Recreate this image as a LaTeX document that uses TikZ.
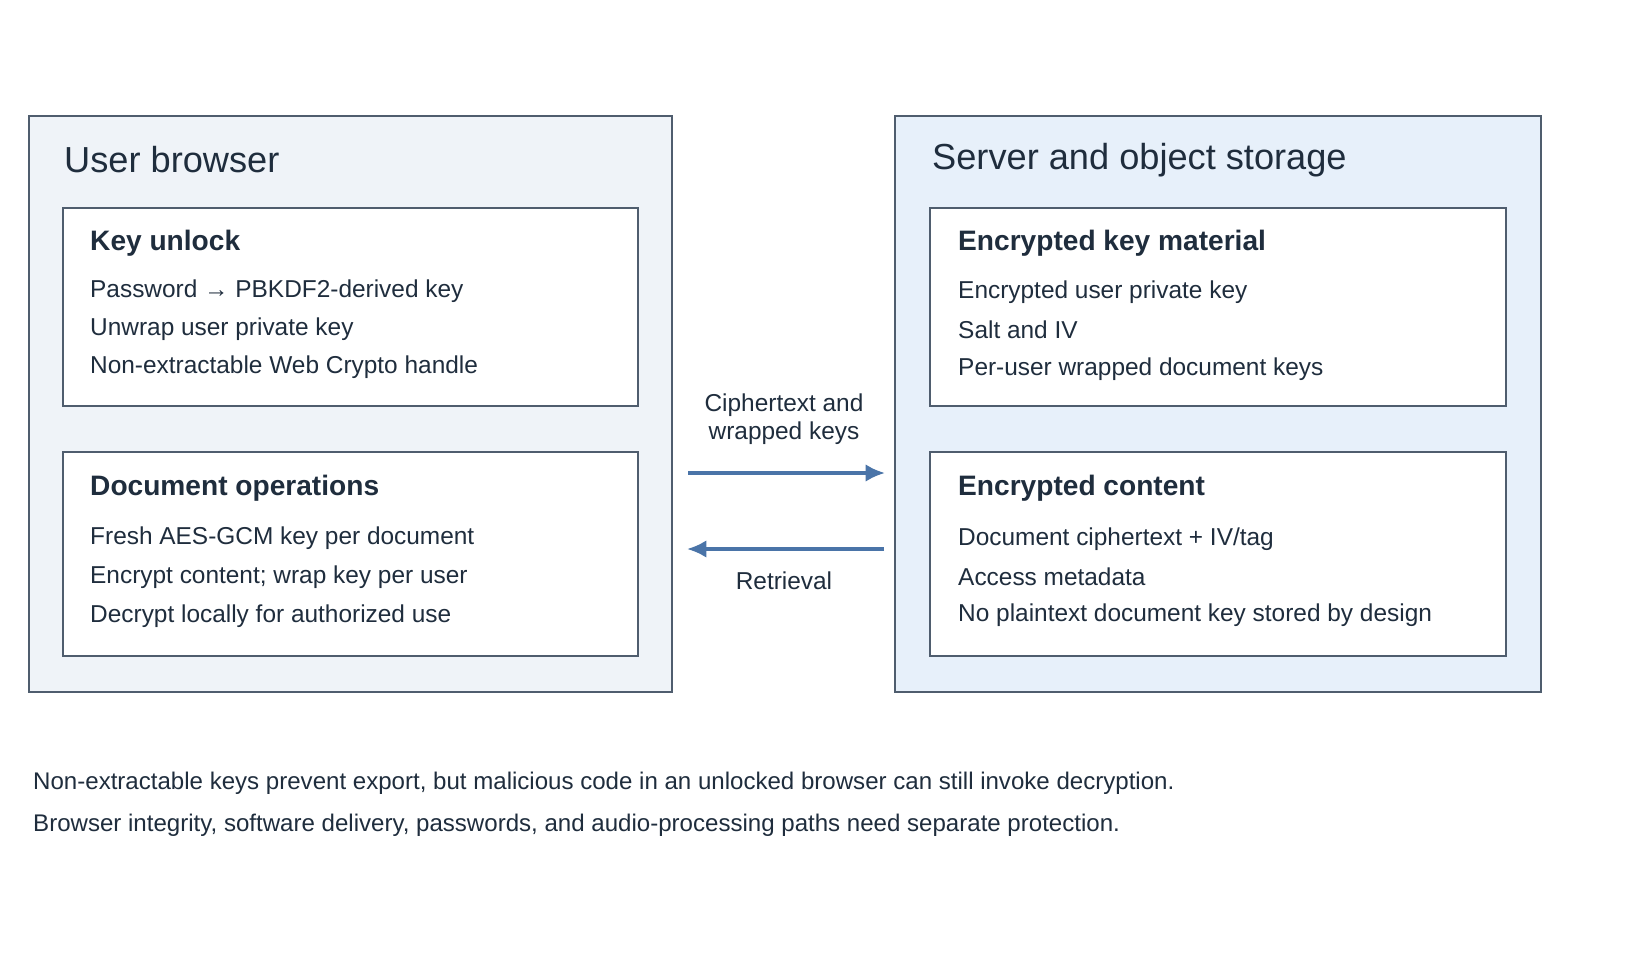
\documentclass[tikz,border=0pt]{standalone}
\usepackage{fontspec}
\setmainfont{Liberation Sans}
\usetikzlibrary{positioning,arrows.meta}
\definecolor{ink}{HTML}{1F2D3D}
\definecolor{edge}{HTML}{4F5D6E}
\definecolor{paneL}{HTML}{EFF3F8}
\definecolor{paneR}{HTML}{E7F0FA}
\definecolor{flow}{HTML}{4A74A8}
\tikzset{
  pane/.style={draw=edge, line width=1.2pt},
  card/.style={draw=edge, fill=white, line width=1.1pt},
  panetitle/.style={anchor=west, text=ink, font=\fontsize{20.6}{24}\selectfont},
  cardtitle/.style={anchor=west, text=ink, font=\fontsize{16}{19}\selectfont\bfseries},
  cardline/.style={anchor=west, text=ink, font=\fontsize{13.9}{16}\selectfont},
  flowarrow/.style={draw=flow, line width=2pt, -{Latex[length=11pt,width=10pt]}},
  note/.style={anchor=west, text=ink, font=\fontsize{13.7}{16}\selectfont}
}
\begin{document}
\begin{tikzpicture}[x=0.02cm, y=-0.02cm]
\useasboundingbox[fill=white] (0,0) rectangle (1650,953);
% panes
\draw[pane, fill=paneL] (29,116) rectangle (672,692);
\draw[pane, fill=paneR] (895,116) rectangle (1541,692);
\node[panetitle] (browser) at (58,160) {User browser};
\node[panetitle] (server) at (926,160) {Server and object storage};
% browser cards
\draw[card] (63,208) rectangle (638,406);
\node[cardtitle] (unlock) at (84,243) {Key unlock};
\node[cardline] (unlock1) at (84,291) {Password → PBKDF2-derived key};
\node[cardline] (unlock2) at (84,329) {Unwrap user private key};
\node[cardline] (unlock3) at (84,367) {Non-extractable Web Crypto handle};
\draw[card] (63,452) rectangle (638,656);
\node[cardtitle] (docops) at (84,488) {Document operations};
\node[cardline] (docops1) at (84,538) {Fresh AES-GCM key per document};
\node[cardline] (docops2) at (84,577) {Encrypt content; wrap key per user};
\node[cardline] (docops3) at (84,616) {Decrypt locally for authorized use};
% server cards
\draw[card] (930,208) rectangle (1506,406);
\node[cardtitle] (keymat) at (952,243) {Encrypted key material};
\node[cardline] (keymat1) at (952,292) {Encrypted user private key};
\node[cardline] (keymat2) at (952,330) {Salt and IV};
\node[cardline] (keymat3) at (952,369) {Per-user wrapped document keys};
\draw[card] (930,452) rectangle (1506,656);
\node[cardtitle] (content) at (952,488) {Encrypted content};
\node[cardline] (content1) at (952,539) {Document ciphertext + IV/tag};
\node[cardline] (content2) at (952,577) {Access metadata};
\node[cardline] (content3) at (952,615) {No plaintext document key stored by design};
% flows
\coordinate (upL) at (688,473);
\coordinate (upR) at (885,473);
\coordinate (downR) at (884,549);
\coordinate (downL) at (687,549);
\draw[flowarrow] (upL) -- (upR);
\draw[flowarrow] (downR) -- (downL);
\node[cardline, anchor=center, align=center] (sendlbl) at (784,419) {Ciphertext and\\wrapped keys};
\node[cardline, anchor=center] (getlbl) at (784,581) {Retrieval};
% footnote
\node[note] (note1) at (27,783) {Non-extractable keys prevent export, but malicious code in an unlocked browser can still invoke decryption.};
\node[note] (note2) at (27,825) {Browser integrity, software delivery, passwords, and audio-processing paths need separate protection.};
\end{tikzpicture}
\end{document}
